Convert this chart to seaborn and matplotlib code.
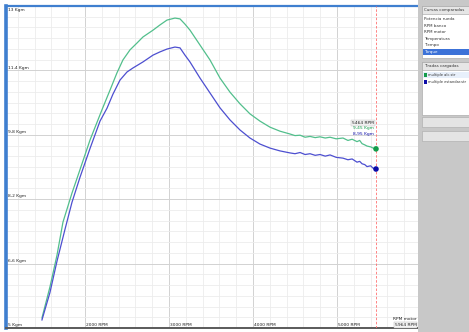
import matplotlib
matplotlib.use("Agg")
import matplotlib.pyplot as plt
from matplotlib.patches import Rectangle
import numpy as np
import pandas as pd
import seaborn as sns

# Torque curves (engine RPM vs torque in Kgm) for the two loaded runs
rpm_alc = [1488, 1583, 1667, 1738, 1845, 1940, 2060, 2202, 2298, 2381, 2452, 2536,
           2619, 2690, 2810, 2893, 2976, 3071, 3131, 3190, 3250, 3369, 3488, 3607,
           3726, 3845, 3964, 4083, 4202, 4321, 4440, 4500, 4560, 4620, 4679, 4740,
           4798, 4860, 4917, 4990, 5071, 5130, 5180, 5238, 5270, 5298, 5330, 5357,
           5400, 5430, 5464]
torque_alc = [5.25, 6.02, 6.81, 7.63, 8.35, 8.93, 9.67, 10.42, 10.91, 11.34, 11.66, 11.91,
              12.08, 12.23, 12.40, 12.53, 12.65, 12.70, 12.68, 12.55, 12.40, 12.03, 11.66, 11.21,
              10.86, 10.57, 10.32, 10.14, 9.99, 9.89, 9.82, 9.78, 9.79, 9.74, 9.76, 9.73,
              9.75, 9.72, 9.74, 9.70, 9.72, 9.66, 9.69, 9.63, 9.66, 9.58, 9.55, 9.52,
              9.50, 9.47, 9.45]

rpm_std = [1488, 1583, 1667, 1762, 1845, 1940, 2060, 2179, 2262, 2333, 2417, 2500,
           2571, 2690, 2810, 2893, 2976, 3071, 3131, 3190, 3250, 3369, 3488, 3607,
           3726, 3845, 3964, 4083, 4202, 4321, 4440, 4500, 4560, 4620, 4679, 4740,
           4798, 4860, 4917, 4990, 5071, 5130, 5180, 5238, 5270, 5298, 5330, 5357,
           5400, 5430, 5464]
torque_std = [5.20, 5.88, 6.66, 7.45, 8.12, 8.74, 9.46, 10.14, 10.46, 10.81, 11.16, 11.36,
              11.46, 11.61, 11.78, 11.86, 11.93, 11.98, 11.96, 11.78, 11.61, 11.21, 10.84, 10.47,
              10.17, 9.92, 9.72, 9.57, 9.47, 9.40, 9.35, 9.33, 9.36, 9.31, 9.33, 9.29,
              9.31, 9.27, 9.30, 9.24, 9.22, 9.18, 9.20, 9.12, 9.14, 9.08, 9.06, 9.01,
              9.03, 8.97, 8.95]

runs = ["multiple alc.str", "multiple estandar.str"]
line_colors = {"multiple alc.str": "#52bf8c", "multiple estandar.str": "#4d4fd0"}
dot_colors = {"multiple alc.str": "#149c4a", "multiple estandar.str": "#0c0ca8"}

channels = ["Potencia rueda", "RPM banco", "RPM motor", "Temperatura", "Tiempo", "Torque"]

y_ticks = [5, 6.6, 8.2, 9.8, 11.4, 13]
x_ticks = [2000, 3000, 4000, 5000]
x_min, x_max = 1060, 5964
y_min, y_max = 5, 13
cursor_rpm = 5464

df = pd.concat([
    pd.DataFrame({"rpm": rpm_alc, "torque": torque_alc, "run": runs[0]}),
    pd.DataFrame({"rpm": rpm_std, "torque": torque_std, "run": runs[1]}),
])

W, H = 469, 332
fig = plt.figure(figsize=(W / 100, H / 100), dpi=100)
fig.patch.set_facecolor("white")


def fx(px):
    return px / W


def fy(py):
    return 1 - py / H


ax = fig.add_axes([fx(6), fy(328), (418 - 6) / W, (328 - 6) / H])
ax.set_facecolor("white")

sns.lineplot(data=df, x="rpm", y="torque", hue="run", palette=line_colors,
             linewidth=0.9, legend=False, ax=ax, sort=False, estimator=None)

ends = df[df["rpm"] == cursor_rpm]
sns.scatterplot(data=ends, x="rpm", y="torque", hue="run", palette=dot_colors,
                s=16, linewidth=0, legend=False, ax=ax, zorder=5)

ax.set_xlim(x_min, x_max)
ax.set_ylim(y_min, y_max)

# grid: light minor lines, slightly darker major lines
ax.set_xticks(x_ticks)
ax.set_xticks(np.arange(1200, x_max, 200), minor=True)
ax.set_yticks(y_ticks)
ax.set_yticks(np.arange(y_min, y_max, 1.6 / 6), minor=True)
ax.grid(which="minor", color="#ececec", linewidth=0.6)
ax.grid(which="major", color="#d2d2d2", linewidth=0.7)
ax.set_axisbelow(True)
ax.tick_params(which="both", length=0, labelbottom=False, labelleft=False)
ax.set_xlabel("")
ax.set_ylabel("")

ax.spines["right"].set_visible(False)
ax.spines["left"].set_color("#3f7fcf")
ax.spines["left"].set_linewidth(2.6)
ax.spines["top"].set_color("#3f7fcf")
ax.spines["top"].set_linewidth(1.6)
ax.spines["bottom"].set_color("#5a5a5a")
ax.spines["bottom"].set_linewidth(1.4)

fs = 3.2
for v in y_ticks:
    label = f"{v:g} Kgm".replace(".", ",")
    va = "top" if v == y_max else "bottom"
    ax.annotate(label, (x_min, v), xytext=(1.5, 0.6 if va == "bottom" else -1.5),
                textcoords="offset points", fontsize=fs, ha="left", va=va, color="#222222")

for r in x_ticks:
    ax.annotate(f"{r} RPM", (r, y_min), xytext=(1.0, 0.8), textcoords="offset points",
                fontsize=fs, ha="left", va="bottom", color="#222222")

ax.annotate("RPM motor", (x_max, y_min), xytext=(-1.0, 5.0), textcoords="offset points",
            fontsize=fs, ha="right", va="bottom", color="#222222")
ax.annotate(f"{x_max} RPM", (x_max, y_min), xytext=(-1.0, 0.8), textcoords="offset points",
            fontsize=fs, ha="right", va="bottom", color="#222222",
            bbox=dict(boxstyle="square,pad=0.15", fc="#f4f4f4", ec="#b0b0b0", lw=0.3))

# cursor line with readout
ax.axvline(cursor_rpm, color="#ff7070", linestyle=(0, (3, 2)), linewidth=0.6, zorder=3)
end_alc = torque_alc[rpm_alc.index(cursor_rpm)]
end_std = torque_std[rpm_std.index(cursor_rpm)]
ax.annotate(f"{cursor_rpm} RPM", (cursor_rpm, 10.09), xytext=(-1.5, 0), textcoords="offset points",
            fontsize=fs, ha="right", va="center", color="#222222",
            bbox=dict(boxstyle="square,pad=0.15", fc="#f0f0f0", ec="#c0c0c0", lw=0.3))
ax.annotate(f"{end_alc:.2f} Kgm".replace(".", ","), (cursor_rpm, 9.96), xytext=(-1.5, 0),
            textcoords="offset points", fontsize=fs, ha="right", va="center",
            color=dot_colors[runs[0]])
ax.annotate(f"{end_std:.2f} Kgm".replace(".", ","), (cursor_rpm, 9.83), xytext=(-1.5, 0),
            textcoords="offset points", fontsize=fs, ha="right", va="center",
            color=dot_colors[runs[1]])


# side panel with channel list and loaded runs
def rect(x0, y0, x1, y1, fc, ec="none", lw=0.0, z=1):
    fig.patches.append(Rectangle((fx(x0), fy(y1)), (x1 - x0) / W, (y1 - y0) / H,
                                 transform=fig.transFigure, facecolor=fc, edgecolor=ec,
                                 linewidth=lw, zorder=z))


def ftext(x, y, s, color="#333333", size=2.9):
    fig.text(fx(x), fy(y), s, fontsize=size, color=color, ha="left", va="center",
             zorder=5)


rect(418, 0, 469, 332, "#c8c8c8", z=0)
rect(422, 6, 469, 58, "white", ec="#a0a0a0", lw=0.4)
rect(422, 6, 469, 14, "#e6e6e6", ec="#a0a0a0", lw=0.4)
ftext(424, 10, "Curvas comparadas")
for i, name in enumerate(channels):
    yy = 19 + i * 6.6
    if name == "Torque":
        rect(422.5, yy - 3.2, 469, yy + 3.2, "#3c72d8", z=2)
        ftext(424, yy, name, color="white")
    else:
        ftext(424, yy, name)

rect(422, 62, 469, 115, "white", ec="#a0a0a0", lw=0.4)
rect(422, 62, 469, 70, "#e6e6e6", ec="#a0a0a0", lw=0.4)
ftext(424, 66, "Tiradas cargadas")
for i, name in enumerate(runs):
    yy = 75 + i * 6.6
    if i == 0:
        rect(422.5, yy - 3.0, 469, yy + 3.0, "#e8f0fb", z=2)
    rect(423.5, yy - 2.0, 427, yy + 2.0, dot_colors[name], z=3)
    ftext(428, yy, name, size=2.6)

rect(422, 117, 469, 127, "#e4e4e4", ec="#a8a8a8", lw=0.4)
rect(422, 131, 469, 141, "#e4e4e4", ec="#a8a8a8", lw=0.4)

fig.savefig("out.png", dpi=100, facecolor=fig.get_facecolor())
